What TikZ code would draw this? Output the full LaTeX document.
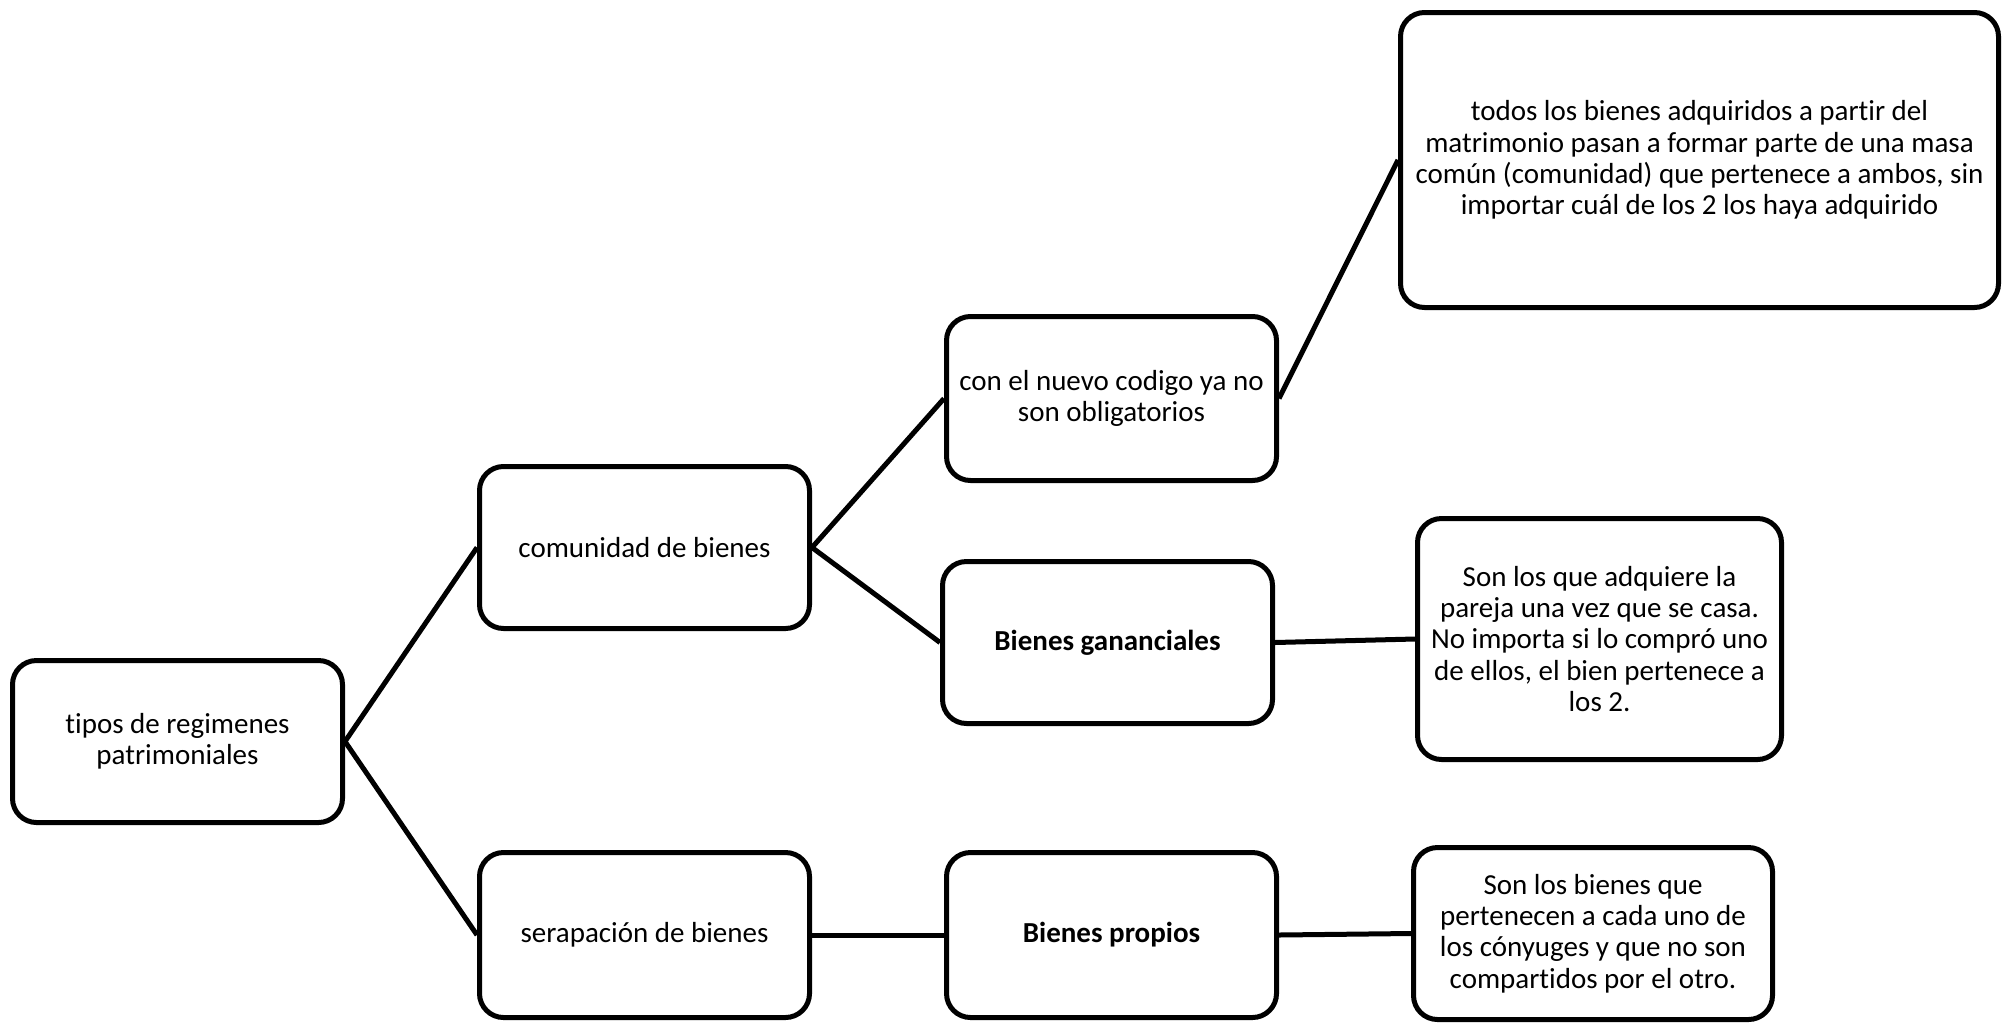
\documentclass[tikz,border=0pt]{standalone}
\usepackage{fontspec}
\setmainfont{Carlito}[Ligatures=NoCommon]
\usepackage{tikz}

\begin{document}
\begin{tikzpicture}[x=0.5pt,y=-0.5pt,
  caja/.style={draw,line width=2.5pt,rounded corners=12pt,align=center,inner sep=4pt,font=\fontsize{14.5}{15.6}\selectfont},
  linea/.style={line width=2.5pt}]
\useasboundingbox (0,0) rectangle (2011,1023);
\node[caja,minimum width=165pt,minimum height=81pt] (tipos) at (177.5,741.5) {tipos de regimenes\\patrimoniales};
\node[caja,minimum width=165pt,minimum height=81pt] (comunidad) at (644.5,547.5) {comunidad de bienes};
\node[caja,minimum width=165pt,minimum height=82.5pt] (separacion) at (644.5,935) {serapación de bienes};
\node[caja,minimum width=165pt,minimum height=82pt] (nuevo) at (1111.5,398.5) {con el nuevo codigo ya no\\son obligatorios};
\node[caja,minimum width=165pt,minimum height=81pt] (gananciales) at (1107.5,642.5) {\textbf{Bienes gananciales}};
\node[caja,minimum width=165pt,minimum height=82.5pt] (propios) at (1111.5,935) {\textbf{Bienes propios}};
\node[caja,minimum width=299pt,minimum height=147.5pt] (masa) at (1699.5,160) {todos los bienes adquiridos a partir del\\matrimonio pasan a formar parte de una masa\\común (comunidad) que pertenece a ambos, sin\\importar cuál de los 2 los haya adquirido};
\node[caja,minimum width=182pt,minimum height=120.5pt] (pareja) at (1599.5,639) {Son los que adquiere la\\pareja una vez que se casa.\\No importa si lo compró uno\\de ellos, el bien pertenece a\\los 2.};
\node[caja,minimum width=179.5pt,minimum height=86pt] (conyuges) at (1593,933.5) {Son los bienes que\\pertenecen a cada uno de\\los cónyuges y que no son\\compartidos por el otro.};
\draw[linea] (tipos.east) -- (comunidad.west);
\draw[linea] (tipos.east) -- (separacion.west);
\draw[linea] (comunidad.east) -- (nuevo.west);
\draw[linea] (comunidad.east) -- (gananciales.west);
\draw[linea] (nuevo.east) -- (masa.west);
\draw[linea] (gananciales.east) -- (pareja.west);
\draw[linea] (separacion.east) -- (propios.west);
\draw[linea] (propios.east) -- (conyuges.west);
\end{tikzpicture}
\end{document}
